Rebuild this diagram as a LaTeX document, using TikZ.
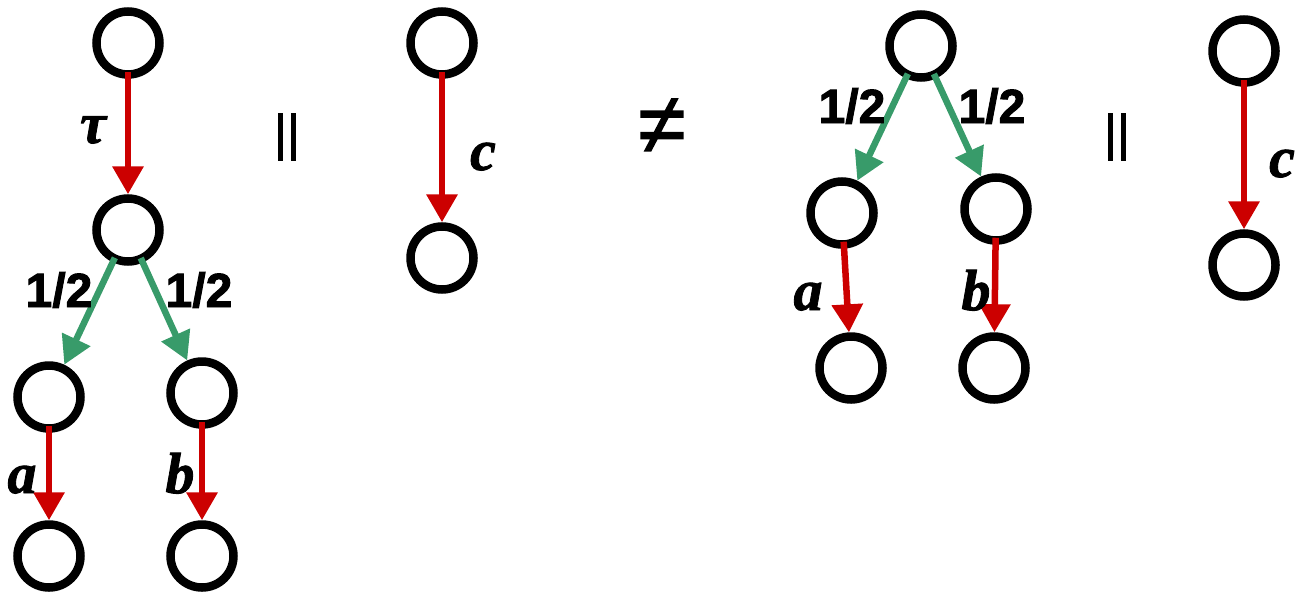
\documentclass[tikz,border=0pt]{standalone}
\usepackage{fontspec}
\setmainfont{Liberation Serif}
\newfontfamily\probfont[FakeBold=2]{Liberation Sans Bold}
\newfontfamily\actfont[FakeBold=1.5]{Liberation Serif Bold Italic}
\newfontfamily\relfont[FakeBold=1.5]{Liberation Sans}
\usetikzlibrary{arrows.meta}
\definecolor{arrred}{RGB}{204,0,0}
\definecolor{arrgreen}{RGB}{56,155,106}
\begin{document}
\begin{tikzpicture}[x=1pt,y=-1pt,
  state/.style={circle,draw=black,line width=8.5pt,minimum size=63pt,inner sep=0pt},
  redarr/.style={draw=arrred,line width=6.5pt,shorten <=-7pt,-{Triangle[width=30pt,length=28pt]}},
  greenarr/.style={draw=arrgreen,line width=6.5pt,shorten <=-5pt,-{Triangle[width=30pt,length=28pt]}},
  act/.style={font=\actfont\fontsize{58}{62}\selectfont,anchor=base,inner sep=0pt},
  prob/.style={font=\probfont\fontsize{48}{52}\selectfont,anchor=base,inner sep=0pt},
  rel/.style={font=\relfont\fontsize{50}{55}\selectfont,inner sep=0pt}]
\useasboundingbox (0,0) rectangle (1297,597);
% left tree
\node[state] (L1) at (128,43) {};
\node[state] (L2) at (128,230) {};
\node[state] (L3) at (49,397) {};
\node[state] (L4) at (202,393) {};
\node[state] (L5) at (49,556) {};
\node[state] (L6) at (202,556) {};
\draw[redarr] (L1) -- (L2);
\draw[greenarr] (L2) -- (L3);
\draw[greenarr] (L2) -- (L4);
\draw[redarr] (L3) -- (L5);
\draw[redarr] (L4) -- (L6);
\node[act] (tau) at (93,143) {τ};
\node[prob] (pl1) at (59,307) {1/2};
\node[prob] (pr1) at (199,307) {1/2};
\node[act] (la1) at (22,493) {a};
\node[act] (lb1) at (180,493) {b};
% relations
\node[rel] (par1) at (287,137) {||};
% middle c tree
\node[state] (M1) at (442,43) {};
\node[state] (M2) at (442,258) {};
\draw[redarr] (M1) -- (M2);
\node[act] (lc1) at (483,170) {c};
\node[font=\relfont\fontsize{86}{90}\selectfont,inner sep=0pt] (neq) at (662,126) {≠};
% right tree
\node[state] (R1) at (921,46) {};
\node[state] (R2) at (842,213) {};
\node[state] (R3) at (996,209) {};
\node[state] (R4) at (851,368) {};
\node[state] (R5) at (994,368) {};
\draw[greenarr] (R1) -- (R2);
\draw[greenarr] (R1) -- (R3);
\draw[redarr] (R2) -- (R4);
\draw[redarr] (R3) -- (R5);
\node[prob] (pl2) at (852,123) {1/2};
\node[prob] (pr2) at (992,123) {1/2};
\node[act] (la2) at (808,310) {a};
\node[act] (lb2) at (976,310) {b};
\node[rel] (par2) at (1117,137) {||};
% right c tree
\node[state] (C1) at (1244,51) {};
\node[state] (C2) at (1244,265) {};
\draw[redarr] (C1) -- (C2);
\node[act] (lc2) at (1282,177) {c};
\end{tikzpicture}
\end{document}
